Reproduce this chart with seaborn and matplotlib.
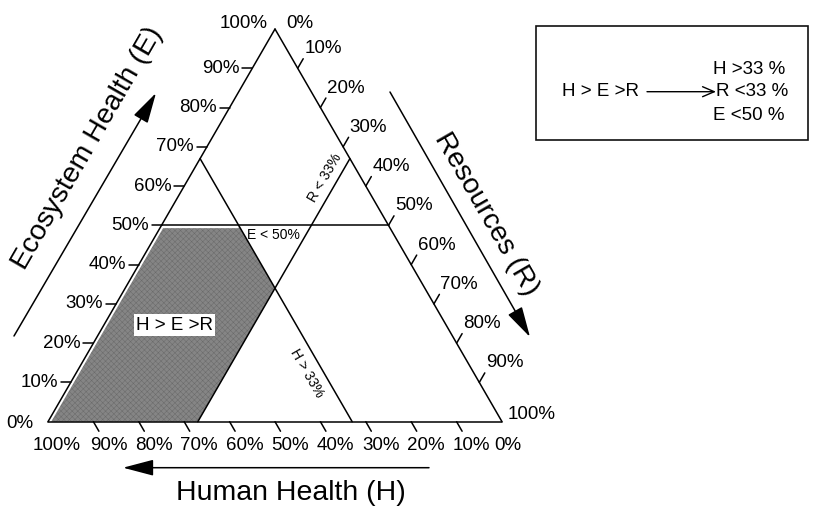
import numpy as np
import pandas as pd
import matplotlib
matplotlib.use("Agg")
import matplotlib.pyplot as plt
from matplotlib.patches import Polygon, Rectangle
import seaborn as sns

# ---- data -------------------------------------------------------------
tick_values = [0, 10, 20, 30, 40, 50, 60, 70, 80, 90, 100]   # percent
h_min = 33     # Human Health threshold (H > 33 %)
r_max = 33     # Resources threshold   (R < 33 %)
e_max = 50     # Ecosystem threshold   (E < 50 %)
region_label = "H > E >R"
rule_lines = ["H >33 %", "R <33 %", "E <50 %"]
axis_titles = {"E": "Ecosystem Health (E)", "R": "Resources (R)", "H": "Human Health (H)"}

# ---- layout -----------------------------------------------------------
W, H_PX = 814, 508
V_H = np.array([48.0, 421.7])    # 100 % Human Health corner
V_E = np.array([275.0, 29.0])    # 100 % Ecosystem Health corner
V_R = np.array([502.0, 421.7])   # 100 % Resources corner


def tern(h, e, r):
    """Ternary percentages -> canvas coordinates."""
    p = (h * V_H + e * V_E + r * V_R) / 100.0
    return float(p[0]), float(p[1])


sns.set_theme(style="white")
plt.rcParams["font.family"] = ["Liberation Sans", "DejaVu Sans"]
plt.rcParams["text.color"] = "black"
plt.rcParams["hatch.linewidth"] = 0.35

fig = plt.figure(figsize=(W / 100, H_PX / 100), dpi=100)
ax = fig.add_axes([0, 0, 1, 1])
ax.set_axis_off()

# ---- shaded region H > h_min, R < r_max, E < e_max ---------------------
region = [
    tern(100, 0, 0),
    tern(100 - e_max, e_max, 0),
    tern(h_min, e_max, 100 - h_min - e_max),
    tern(h_min, 100 - h_min - r_max, r_max),
    tern(100 - r_max, 0, r_max),
]
ax.add_patch(Polygon(region, closed=True, facecolor="#858585",
                     edgecolor="#6a6a6a", hatch="xxxxxx", lw=0, zorder=1))
# thin white margin along the left side and the E limit
margin = pd.DataFrame([tern(100, 0, 0), tern(100 - e_max, e_max, 0),
                       tern(h_min, e_max, 100 - h_min - e_max)], columns=["x", "y"])
ax.plot(margin["x"], margin["y"], color="white", lw=4.0,
        solid_capstyle="butt", zorder=2)

# ---- line segments: frame, thresholds, ticks -------------------------
segs = []


def add_seg(name, p0, p1):
    segs.append({"seg": name, "x": p0[0], "y": p0[1], "o": 0})
    segs.append({"seg": name, "x": p1[0], "y": p1[1], "o": 1})


add_seg("base", tern(100, 0, 0), tern(0, 0, 100))
add_seg("left", tern(100, 0, 0), tern(0, 100, 0))
add_seg("right", tern(0, 100, 0), tern(0, 0, 100))
add_seg("e_lim", tern(100 - e_max, e_max, 0), tern(0, e_max, 100 - e_max))
add_seg("h_lim", tern(h_min, 100 - h_min, 0), tern(h_min, 0, 100 - h_min))
add_seg("r_lim", tern(100 - r_max, 0, r_max), tern(0, 100 - r_max, r_max))

TICK = 11.0
c60, s60 = 0.5, np.sqrt(3) / 2
tick_text = []
for v in tick_values:
    lab = f"{v}%"
    # Ecosystem Health, left side, horizontal ticks
    x, y = tern(100 - v, v, 0)
    if 0 < v < 100:
        add_seg(f"e{v}", (x, y), (x - 10, y))
        tick_text.append((x - 13, y, lab, "right", "center"))
    # Resources, right side, ticks pointing up-right
    x, y = tern(0, 100 - v, v)
    if 0 < v < 100:
        xe, ye = x + TICK * c60, y - TICK * s60
        add_seg(f"r{v}", (x, y), (xe, ye))
        tick_text.append((xe + 1, ye - 10, lab, "left", "center"))
    # Human Health, base, ticks pointing down-right
    x, y = tern(v, 0, 100 - v)
    if 0 < v < 100:
        add_seg(f"h{v}", (x, y), (x + TICK * c60, y + TICK * s60))
        tick_text.append((x + 15, 445, lab, "center", "center"))

# corner labels
bx, by = tern(100, 0, 0)
ax_, ay_ = tern(0, 100, 0)
rx, ry = tern(0, 0, 100)
tick_text += [
    (bx - 15, by + 2, f"{tick_values[0]}%", "right", "center"),
    (bx + 9, 445, f"{tick_values[-1]}%", "center", "center"),
    (ax_ - 7, ay_ - 6, f"{tick_values[-1]}%", "right", "center"),
    (ax_ + 11, ay_ - 6, f"{tick_values[0]}%", "left", "center"),
    (rx + 6, ry - 7, f"{tick_values[-1]}%", "left", "center"),
    (rx + 6, 445, f"{tick_values[0]}%", "center", "center"),
]

seg_df = pd.DataFrame(segs)
sns.lineplot(data=seg_df, x="x", y="y", units="seg", estimator=None,
             sort=False, color="black", linewidth=1.1, legend=False,
             ax=ax, zorder=3)

for x, y, s, ha, va in tick_text:
    ax.text(x, y, s, ha=ha, va=va, fontsize=13.5, color="black")

# ---- threshold annotations -------------------------------------------
ax.text(273.5, 235, f"E < {e_max}%", fontsize=10, ha="center", va="center")
ax.text(325, 178, f"R < {r_max}%", fontsize=10, ha="center", va="center",
        rotation=60, rotation_mode="anchor")
ax.text(307, 373, f"H > {h_min}%", fontsize=10, ha="center", va="center",
        rotation=-60, rotation_mode="anchor")
ax.text(174.5, 325, region_label, fontsize=13.5, ha="center", va="center",
        bbox=dict(facecolor="white", edgecolor="none", pad=1.5), zorder=5)

# ---- axis titles and direction arrows ---------------------------------
big = dict(arrowstyle="-|>,head_length=1.9,head_width=0.5",
           mutation_scale=10, color="black", lw=1.1, shrinkA=0, shrinkB=0)
ax.annotate("", xy=(156, 93), xytext=(14, 336), arrowprops=big)
ax.annotate("", xy=(530, 337), xytext=(390, 92), arrowprops=big)
ax.annotate("", xy=(123, 467.7), xytext=(429, 467.7), arrowprops=big)

ax.text(88, 148, axis_titles["E"], fontsize=20.5, rotation=60,
        ha="center", va="center", rotation_mode="anchor")
ax.text(486, 214, axis_titles["R"], fontsize=20.5, rotation=-60,
        ha="center", va="center", rotation_mode="anchor")
ax.text(291, 493, axis_titles["H"], fontsize=20.5, ha="center", va="center")

# ---- rule box ---------------------------------------------------------
ax.add_patch(Rectangle((536, 26), 272, 114, fill=False, edgecolor="#111111",
                       lw=1.2, zorder=4))
ax.text(562, 91.7, region_label, fontsize=13.5, ha="left", va="center")
ax.annotate("", xy=(716, 91.7), xytext=(647, 91.7),
            arrowprops=dict(arrowstyle="->,head_length=0.7,head_width=0.3",
                            mutation_scale=12, color="black", lw=1.0,
                            shrinkA=0, shrinkB=0))
for yy, s in zip([69, 91.7, 115], rule_lines):
    ax.text(713 if not s.startswith("R") else 716.5, yy, s,
            fontsize=13.5, ha="left", va="center")

ax.set_xlim(0, W)
ax.set_ylim(H_PX, 0)
fig.savefig("out.png", dpi=100)
